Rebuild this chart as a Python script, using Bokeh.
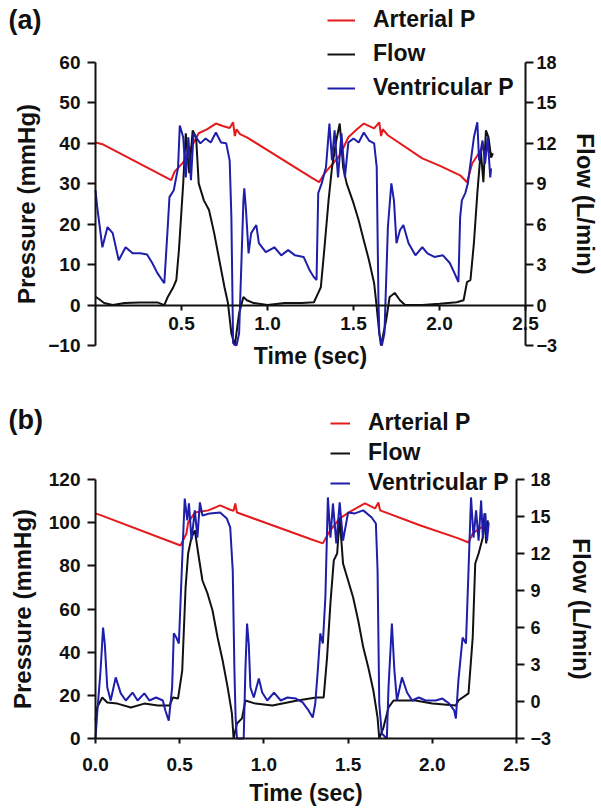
from bokeh.plotting import figure
from bokeh.models import (Range1d, LinearAxis, FixedTicker, PrintfTickFormatter,
                          Legend, LegendItem, Label)
from bokeh.layouts import column
from bokeh.embed import file_html
from bokeh.resources import INLINE

# ---------------- data: panel (a) ----------------
a_art_t = [0.00, 0.04, 0.44, 0.46, 0.51, 0.55, 0.60, 0.65, 0.70, 0.74,
           0.78, 0.80, 0.81, 0.82, 0.84, 0.88, 1.256, 1.30, 1.33, 1.38,
           1.42, 1.47, 1.52, 1.56, 1.62, 1.65, 1.66, 1.67, 1.70, 1.90,
           2.00, 2.12, 2.16, 2.19, 2.24, 2.27, 2.31]
a_art_p = [40.2, 39.8, 30.9, 33.0, 35.3, 38.5, 42.5, 43.5, 44.9, 44.3,
           43.8, 45.2, 41.8, 43.5, 42.3, 41.5, 31.5, 30.4, 32.5, 35.0,
           37.0, 41.5, 43.5, 44.9, 43.7, 45.2, 41.8, 43.5, 42.0, 36.3,
           34.5, 32.1, 30.4, 35.0, 38.3, 39.0, 37.0]

a_ven_t = [0.00, 0.01, 0.04, 0.07, 0.10, 0.135, 0.175, 0.216, 0.26, 0.30,
           0.33, 0.36, 0.40, 0.42, 0.43, 0.455, 0.48, 0.49, 0.51, 0.525,
           0.54, 0.555, 0.57, 0.584, 0.61, 0.64, 0.67, 0.70, 0.73, 0.76,
           0.78, 0.79, 0.80, 0.82, 0.835, 0.86, 0.865, 0.875, 0.89, 0.905,
           0.935, 0.95, 0.99, 1.04, 1.08, 1.12, 1.16, 1.21, 1.245, 1.27,
           1.285, 1.295, 1.315, 1.34, 1.36, 1.375, 1.39, 1.41, 1.43, 1.45,
           1.47, 1.50, 1.53, 1.56, 1.59, 1.62, 1.635, 1.645, 1.65, 1.665,
           1.68, 1.70, 1.72, 1.735, 1.75, 1.77, 1.79, 1.82, 1.86, 1.90,
           1.93, 1.97, 2.02, 2.06, 2.085, 2.11, 2.12, 2.13, 2.15, 2.165,
           2.18, 2.20, 2.22, 2.23, 2.25, 2.265, 2.28, 2.295, 2.30]
a_ven_p = [28.4, 24.2, 14.3, 19.3, 17.8, 11.1, 14.3, 12.8, 12.8, 12.5,
           10.4, 7.9, 5.4, 19.3, 26.7, 28.4, 34.0, 44.4, 41.5, 31.6,
           41.5, 30.9, 42.5, 41.5, 40.0, 41.2, 40.2, 42.7, 40.2, 40.0,
           35.8, 21.7, -9.4, -10.0, -7.0, 25.9, 28.9, 23.5, 12.8, 17.8,
           19.8, 15.3, 13.1, 14.3, 12.3, 13.6, 12.3, 11.9, 8.6, 6.9,
           6.2, 27.7, 30.1, 34.1, 44.9, 35.8, 43.2, 31.6, 42.5, 31.6,
           40.2, 41.2, 40.2, 42.7, 40.7, 40.0, 34.1, 1.2, -7.0, -10.0,
           -7.0, 19.3, 30.1, 25.9, 15.3, 18.5, 19.8, 15.3, 12.3, 14.3,
           12.8, 11.9, 12.3, 10.4, 8.1, 5.7, 21.7, 25.9, 27.7, 30.1,
           35.0, 41.5, 45.2, 35.8, 40.7, 35.0, 41.5, 31.6, 33.8]

a_flow_t = [0.00, 0.02, 0.05, 0.10, 0.17, 0.26, 0.36, 0.40, 0.42, 0.45,
            0.47, 0.485, 0.51, 0.525, 0.545, 0.565, 0.585, 0.60, 0.63, 0.66,
            0.69, 0.72, 0.75, 0.77, 0.79, 0.81, 0.835, 0.86, 0.88, 0.92,
            1.00, 1.10, 1.20, 1.27, 1.295, 1.31, 1.33, 1.355, 1.375, 1.40,
            1.42, 1.44, 1.46, 1.50, 1.53, 1.56, 1.59, 1.62, 1.635, 1.65,
            1.66, 1.69, 1.71, 1.74, 1.77, 1.80, 1.90, 2.00, 2.10, 2.14,
            2.16, 2.18, 2.20, 2.22, 2.24, 2.255, 2.27, 2.285, 2.30, 2.31]
a_flow_v = [0.6, 0.45, 0.15, 0.0, 0.15, 0.2, 0.2, 0.0, 0.6, 1.26,
            1.86, 4.08, 9.03, 12.75, 9.78, 12.96, 12.45, 9.03, 7.77, 7.05,
            5.34, 3.33, 1.32, 0.15, -2.1, -3.0, -0.6, 0.6, 0.36, 0.15,
            0.0, 0.15, 0.15, 0.21, 0.9, 1.32, 4.08, 7.77, 10.2, 12.21,
            13.47, 10.2, 9.03, 7.56, 6.3, 4.8, 3.33, 1.62, -0.15, -2.1,
            -3.0, -1.11, 0.6, 0.9, 0.36, 0.0, 0.0, 0.09, 0.21, 0.36,
            1.71, 1.86, 4.59, 8.31, 11.49, 9.12, 12.96, 12.45, 10.95, 11.25]

# ---------------- data: panel (b) ----------------
b_art_t = [0.00, 0.03, 0.505, 0.54, 0.55, 0.59, 0.67, 0.74, 0.80, 0.82,
           0.83, 0.84, 0.89, 1.28, 1.35, 1.39, 1.45, 1.52, 1.60, 1.66,
           1.68, 1.69, 1.93, 2.155, 2.215, 2.24, 2.29, 2.33]
b_art_p = [104.3, 103.5, 89.4, 95.0, 100.0, 104.7, 105.7, 108.0, 106.0, 105.5,
           108.9, 104.7, 103.3, 92.3, 90.4, 96.0, 102.0, 105.5, 108.9, 106.6,
           109.4, 105.7, 98.7, 92.7, 90.8, 95.0, 97.8, 97.8]

b_ven_t = [0.00, 0.01, 0.03, 0.045, 0.055, 0.07, 0.09, 0.12, 0.15, 0.18,
           0.22, 0.25, 0.29, 0.32, 0.36, 0.40, 0.415, 0.435, 0.455, 0.465,
           0.48, 0.495, 0.51, 0.52, 0.53, 0.545, 0.555, 0.57, 0.59, 0.605,
           0.62, 0.635, 0.68, 0.74, 0.78, 0.80, 0.815, 0.825, 0.832, 0.84,
           0.88, 0.89, 0.90, 0.91, 0.92, 0.94, 0.97, 0.99, 1.02, 1.06,
           1.10, 1.14, 1.19, 1.23, 1.265, 1.29, 1.305, 1.32, 1.335, 1.35,
           1.365, 1.38, 1.395, 1.41, 1.43, 1.45, 1.47, 1.50, 1.54, 1.59,
           1.64, 1.665, 1.675, 1.685, 1.70, 1.73, 1.74, 1.76, 1.775, 1.79,
           1.82, 1.85, 1.88, 1.92, 1.96, 2.02, 2.06, 2.10, 2.13, 2.14,
           2.155, 2.18, 2.20, 2.215, 2.23, 2.245, 2.26, 2.275, 2.29, 2.30,
           2.315, 2.325, 2.335]
b_ven_p = [0.0, 11.6, 31.5, 51.4, 44.0, 23.6, 17.6, 28.3, 20.9, 17.6,
           21.3, 17.6, 20.9, 17.6, 19.0, 17.6, 13.0, 8.3, 23.6, 48.7,
           46.8, 44.0, 73.2, 93.1, 111.2, 101.0, 109.0, 92.0, 105.7, 93.1,
           109.4, 103.3, 104.3, 104.7, 101.9, 97.8, 77.8, 31.5, 9.7, 0.0,
           0.0, 31.5, 53.3, 44.0, 23.6, 19.0, 27.8, 21.3, 17.6, 21.3,
           17.6, 19.0, 18.5, 16.7, 13.0, 9.7, 16.2, 31.5, 48.7, 44.0,
           65.3, 111.7, 93.1, 108.9, 90.4, 109.4, 91.7, 104.7, 104.3, 105.7,
           102.4, 99.6, 77.8, 16.2, 2.3, 0.0, 23.6, 53.3, 31.5, 17.6,
           28.3, 21.3, 17.6, 19.0, 17.6, 17.6, 18.5, 16.2, 13.0, 9.3,
           26.9, 46.8, 44.0, 77.8, 111.7, 93.1, 105.7, 91.7, 110.3, 93.1,
           104.3, 91.7, 100.0]

b_flow_t = [0.00, 0.01, 0.04, 0.07, 0.13, 0.21, 0.29, 0.37, 0.44, 0.46,
            0.49, 0.515, 0.535, 0.55, 0.57, 0.59, 0.61, 0.635, 0.665, 0.695,
            0.725, 0.755, 0.785, 0.81, 0.82, 0.84, 0.87, 0.89, 0.95, 1.05,
            1.20, 1.31, 1.355, 1.375, 1.395, 1.415, 1.435, 1.45, 1.47, 1.50,
            1.53, 1.56, 1.59, 1.62, 1.65, 1.675, 1.685, 1.71, 1.74, 1.77,
            1.90, 2.00, 2.14, 2.155, 2.215, 2.24, 2.255, 2.275, 2.30, 2.31,
            2.32, 2.33]
b_flow_v = [-1.55, -0.48, 0.33, -0.08, -0.17, -0.48, -0.17, -0.32, -0.32, 0.33,
            0.24, 2.51, 9.25, 12.0, 13.29, 13.87, 12.0, 9.81, 8.76, 7.38,
            5.19, 3.32, 1.13, -0.97, -3.0, -1.78, -1.37, 0.08, -0.17, -0.32,
            0.08, 0.33, 0.33, 3.56, 7.96, 11.44, 12.0, 14.92, 11.19, 9.81,
            8.43, 6.57, 4.39, 2.76, 0.89, -1.30, -3.0, -2.11, -0.48, 0.08,
            0.08, -0.17, -0.32, 0.08, 0.66, 5.19, 11.19, 12.0, 13.29, 15.25,
            12.82, 14.68]

a_p_ticks = [-10, 0, 10, 20, 30, 40, 50, 60]
b_p_ticks = [0, 20, 40, 60, 80, 100, 120]
flow_ticks = [-3, 0, 3, 6, 9, 12, 15, 18]
a_x_ticks = [0.5, 1.0, 1.5, 2.0, 2.5]
b_x_ticks = [0.0, 0.5, 1.0, 1.5, 2.0, 2.5]

FONT = "Liberation Sans"
RED = "#e41a1c"
BLACK = "#111111"
BLUE = "#1e1eaa"
W = 600


def style_axis(ax, tick_out, standoff, lab_standoff, tick_size="19px",
               label_size="24px"):
    ax.axis_line_width = 2
    ax.axis_line_color = BLACK
    ax.major_tick_line_width = 2
    ax.major_tick_line_color = BLACK
    ax.major_tick_in = 0
    ax.major_tick_out = tick_out
    ax.minor_tick_out = 0
    ax.minor_tick_in = 0
    ax.major_label_standoff = standoff
    ax.axis_label_standoff = lab_standoff
    ax.major_label_text_font = FONT
    ax.major_label_text_font_style = "bold"
    ax.major_label_text_font_size = tick_size
    ax.major_label_text_color = BLACK
    ax.axis_label_text_font = FONT
    ax.axis_label_text_font_style = "bold"
    ax.axis_label_text_font_size = label_size
    ax.axis_label_text_color = BLACK


def build(panel, H, geom, prange, pticks, xticks, art, flow, ven,
          legend_loc, glyph_w, spacing, tag_y, xax, lax, rax):
    # geom: pixel positions inside the figure of t=0, t=2.5, p=max, p=min
    x0px, x1px, ytop, ybot = geom
    pmin, pmax = prange
    sx = (x1px - x0px) / 2.5
    sy = (ybot - ytop) / (pmax - pmin)
    xr = Range1d(-x0px / sx, 2.5 + (W - x1px) / sx)
    y_lo = pmin - (H - ybot) / sy
    y_hi = pmax + ytop / sy
    k = 21.0 / (pmax - pmin)  # flow per pressure unit (-3..18 spans the axis)
    p = figure(width=W, height=H, x_range=xr, y_range=Range1d(y_lo, y_hi),
               output_backend="svg", toolbar_location=None, min_border=0)
    p.outline_line_color = None
    p.xgrid.visible = False
    p.ygrid.visible = False
    p.extra_y_ranges = {"flow": Range1d(-3 + (y_lo - pmin) * k,
                                        -3 + (y_hi - pmin) * k)}

    ya = p.yaxis[0]
    ya.ticker = FixedTicker(ticks=pticks)
    ya.axis_label = "Pressure (mmHg)"
    ya.fixed_location = 0
    ya.bounds = (pmin, pmax)
    style_axis(ya, *lax)

    xa = p.xaxis[0]
    xa.ticker = FixedTicker(ticks=xticks)
    xa.formatter = PrintfTickFormatter(format="%.1f")
    xa.axis_label = "Time (sec)"
    xa.fixed_location = 0
    xa.bounds = (0, 2.5)
    style_axis(xa, *xax, label_size="23px")

    ra = LinearAxis(y_range_name="flow", ticker=FixedTicker(ticks=flow_ticks),
                    axis_label="Flow (L/min)", fixed_location=2.5,
                    bounds=(-3, 18))
    style_axis(ra, *rax, tick_size="18px")
    p.add_layout(ra, "right")

    r_art = p.line(art[0], art[1], line_color=RED, line_width=2)
    r_flow = p.line(flow[0], flow[1], line_color=BLACK, line_width=2,
                    y_range_name="flow")
    r_ven = p.line(ven[0], ven[1], line_color=BLUE, line_width=2)

    leg = Legend(items=[LegendItem(label="Arterial P", renderers=[r_art]),
                        LegendItem(label="Flow", renderers=[r_flow]),
                        LegendItem(label="Ventricular P", renderers=[r_ven])],
                 location=legend_loc, orientation="vertical")
    leg.label_text_font = FONT
    leg.label_text_font_style = "bold"
    leg.label_text_font_size = "23px"
    leg.label_text_color = BLACK
    leg.glyph_width = glyph_w
    leg.glyph_height = 20
    leg.label_height = 20
    leg.label_standoff = 18
    leg.spacing = spacing
    leg.padding = 0
    leg.margin = 0
    leg.border_line_color = None
    leg.background_fill_alpha = 0
    p.add_layout(leg, "center")

    p.add_layout(Label(x=8, y=tag_y, x_units="screen", y_units="screen",
                       text=panel, text_font=FONT, text_font_style="bold",
                       text_font_size="27px", text_color=BLACK,
                       text_baseline="middle", text_align="left"))
    return p


HA = 375
HB = 431
pa = build("(a)", HA, (95, 525, 62, 345), (-10, 60), a_p_ticks, a_x_ticks,
           (a_art_t, a_art_p), (a_flow_t, a_flow_v), (a_ven_t, a_ven_p),
           (327, 274), 28, 7, HA - 19,
           (5, 7, 9), (8, 7, 5), (8, 3, 12))
pb = build("(b)", HB, (95, 516, 104, 363), (0, 120), b_p_ticks, b_x_ticks,
           (b_art_t, b_art_p), (b_flow_t, b_flow_v), (b_ven_t, b_ven_p),
           (330, 310), 20, 3, HB - 44,
           (5, 14, 6), (8, 7, 10), (8, 6, 14))

layout = column(pa, pb, spacing=0)
open("out.html", "w").write(file_html(layout, INLINE))
